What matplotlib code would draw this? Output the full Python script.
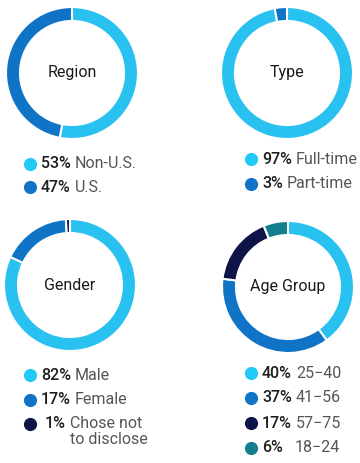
import matplotlib.pyplot as plt

plt.rcParams['font.family'] = ['Roboto', 'DejaVu Sans']

LIGHT = '#29c1f0'
MID = '#0f74c5'
NAVY = '#0e1447'
TEAL = '#147f8c'
DOT_LIGHT = '#22c8f6'

region_labels = ['Non-U.S.', 'U.S.']
region_values = [53, 47]
type_labels = ['Full-time', 'Part-time']
type_values = [97, 3]
gender_labels = ['Male', 'Female', 'Chose not\nto disclose']
gender_values = [82, 17, 1]
age_labels = ['25\u221240', '41\u221256', '57\u221275', '18\u221224']
age_values = [40, 37, 17, 6]

W, H = 360, 463
fig = plt.figure(figsize=(W / 100, H / 100), dpi=100)
ax = fig.add_axes([0, 0, 1, 1])
renderer = fig.canvas.get_renderer()


def donut(title, values, colors, cx, cy, r=66, ring=14):
    # cy is measured from the top of the image
    ax.pie(values, colors=colors, center=(cx, H - cy), radius=r,
           startangle=90, counterclock=False,
           wedgeprops=dict(width=ring, edgecolor='white', linewidth=1.5))
    ax.text(cx, H - cy, title, ha='center', va='center', fontsize=11.5,
            color='#1a1a1a')


def legend(values, labels, colors, x, rows, col=0, indent=None):
    indent = indent or [0] * len(values)
    for v, lab, c, y0, ind in zip(values, labels, colors, rows, indent):
        y = H - y0
        ax.scatter([x], [y], s=90, color=c, linewidths=0, zorder=3)
        t = ax.text(x + 11 + ind, y, f'{v}%', ha='left', va='center',
                    fontsize=11.5, fontweight='medium', color='#1e1e1e')
        ax.set_xlim(0, W)
        ax.set_ylim(0, H)
        end = t.get_window_extent(renderer).x1 * 100 / fig.dpi
        lx = max(end + 4, col)
        if '\n' in lab:
            ax.text(lx, y + 8, lab, ha='left', va='top', fontsize=11.5,
                    color='#555555', linespacing=1.05)
        else:
            ax.text(lx, y, lab, ha='left', va='center', fontsize=11.5,
                    color='#555555')


ax.set_aspect('equal')

donut('Region', region_values, [LIGHT, MID], 72, 73)
donut('Type', type_values, [LIGHT, MID], 287, 73)
donut('Gender', gender_values, [LIGHT, MID, NAVY], 70, 285)
donut('Age Group', age_values, [LIGHT, MID, NAVY, TEAL], 288, 287)

ax.set_xlim(0, W)
ax.set_ylim(0, H)

legend(region_values, region_labels, [DOT_LIGHT, MID], 30, [164, 187])
legend(type_values, type_labels, [DOT_LIGHT, MID], 251, [159, 184])
legend(gender_values, gender_labels, [DOT_LIGHT, MID, NAVY], 30,
       [375, 400, 424], indent=[0, 0, 4])
legend(age_values, age_labels, [DOT_LIGHT, MID, NAVY, TEAL], 251,
       [373, 398, 423, 448], col=295)

ax.set_xlim(0, W)
ax.set_ylim(0, H)
ax.axis('off')

fig.savefig('out.png', dpi=100)
